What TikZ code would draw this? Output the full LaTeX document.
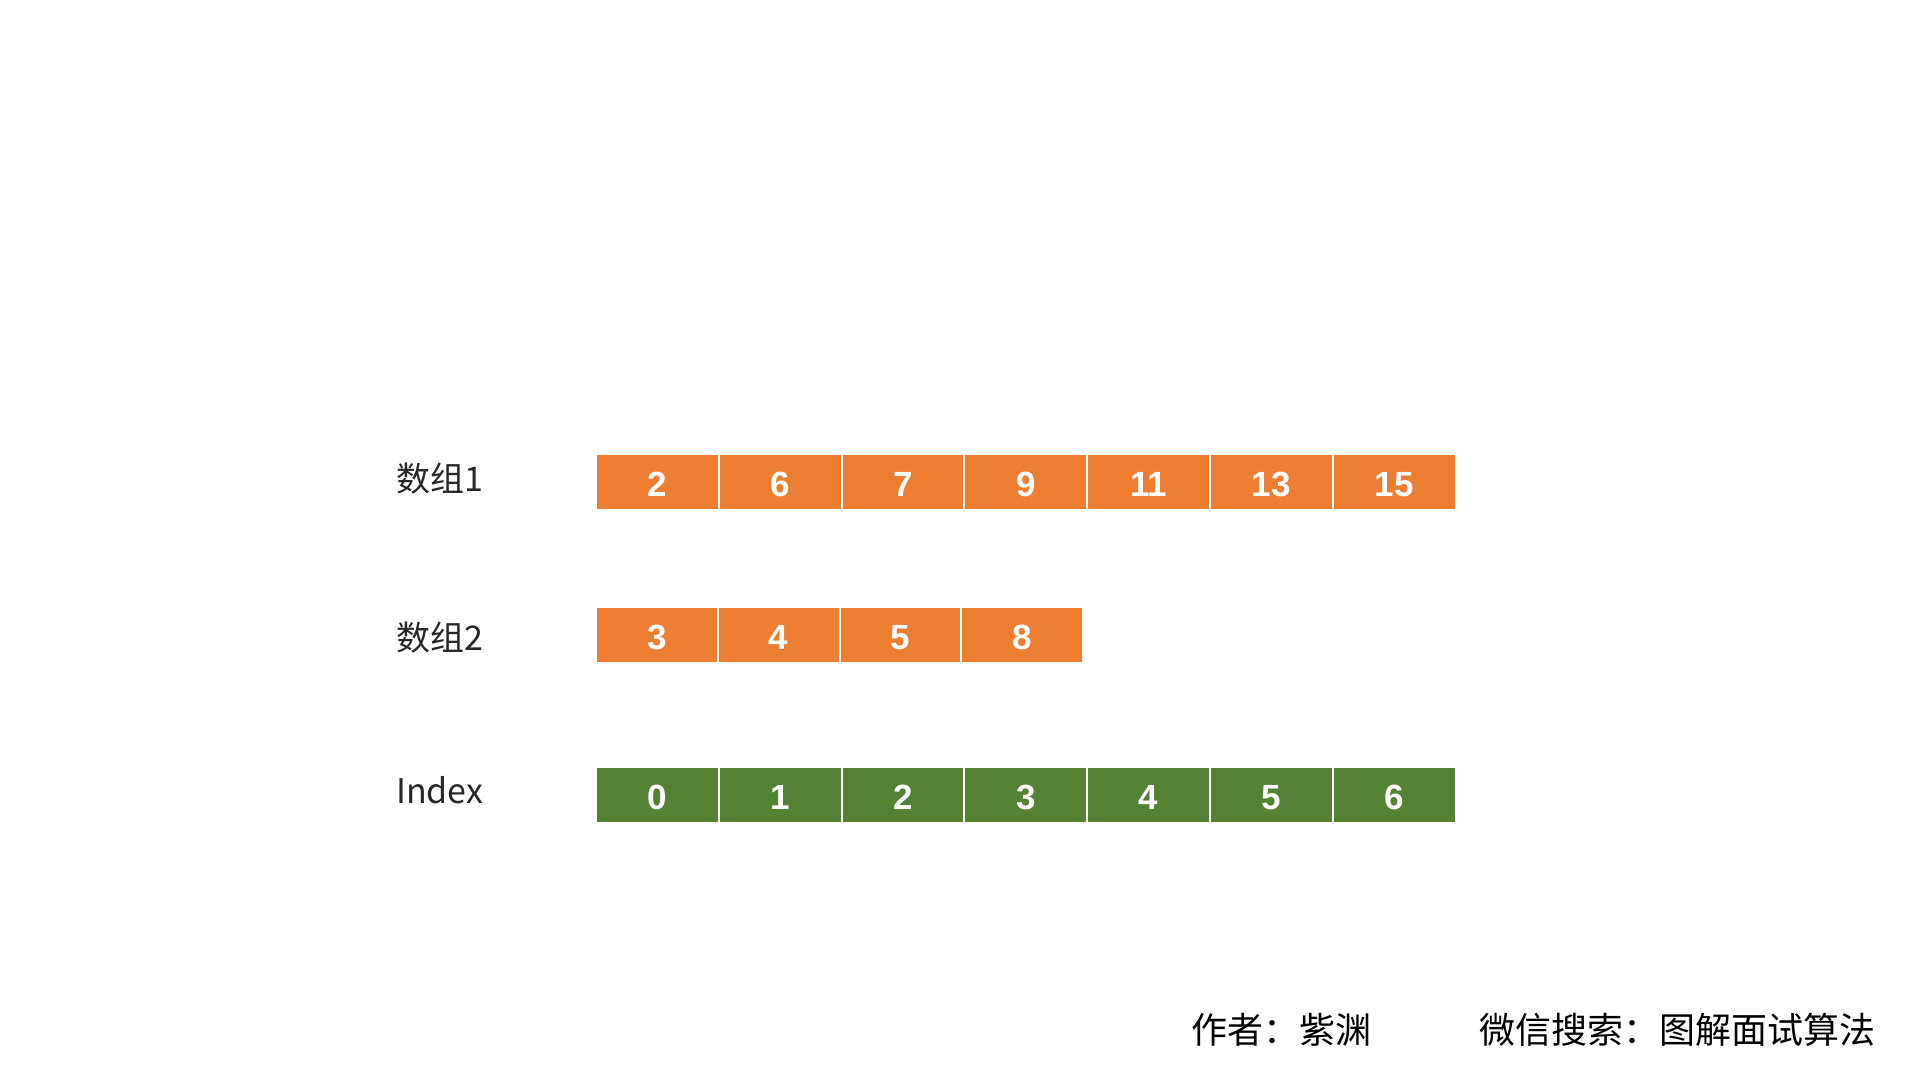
\documentclass[tikz,border=0pt]{standalone}
\usepackage{fontspec}
\setmainfont{Liberation Sans}
\newfontfamily\cjk{Noto Sans CJK SC}
\definecolor{org}{HTML}{ED7D31}
\definecolor{grn}{HTML}{548235}
\begin{document}
\begin{tikzpicture}[x=1pt,y=-1pt,
  cellbox/.style={fill=#1, draw=none, minimum height=54pt, inner sep=0pt,
    text height=29pt, text depth=0pt,
    text=white, font=\fontsize{35}{35}\selectfont\bfseries, anchor=center},
  rowlabel/.style={anchor=base west, inner sep=0pt, font=\cjk\fontsize{34}{34}\selectfont, text=black!85},
  footer/.style={anchor=base west, inner sep=0pt, font=\cjk\fontsize{36}{36}\selectfont, text=black}]
\useasboundingbox[fill=white] (0,0) rectangle (1920,1080);

% row labels
\node[rowlabel] (l1) at (396,491) {数组1};
\node[rowlabel] (l2) at (396,650) {数组2};
\node[rowlabel] (l3) at (396,803) {Index};

% array 1
\foreach \v [count=\i from 0] in {2,6,7,9,11,13,15} {
  \node[cellbox=org, minimum width=120.8pt] (a\i) at ({597+60.4+\i*122.8},482) {\v};
}
% array 2
\foreach \v [count=\i from 0] in {3,4,5,8} {
  \node[cellbox=org, minimum width=119.8pt] (b\i) at ({597+59.9+\i*121.8},635) {\v};
}
% index
\foreach \v [count=\i from 0] in {0,1,2,3,4,5,6} {
  \node[cellbox=grn, minimum width=120.8pt] (c\i) at ({597+60.4+\i*122.8},795) {\v};
}

% footer
\node[footer] (f1) at (1191,1043) {作者：紫渊};
\node[footer] (f2) at (1479,1043) {微信搜索：图解面试算法};
\end{tikzpicture}
\end{document}
